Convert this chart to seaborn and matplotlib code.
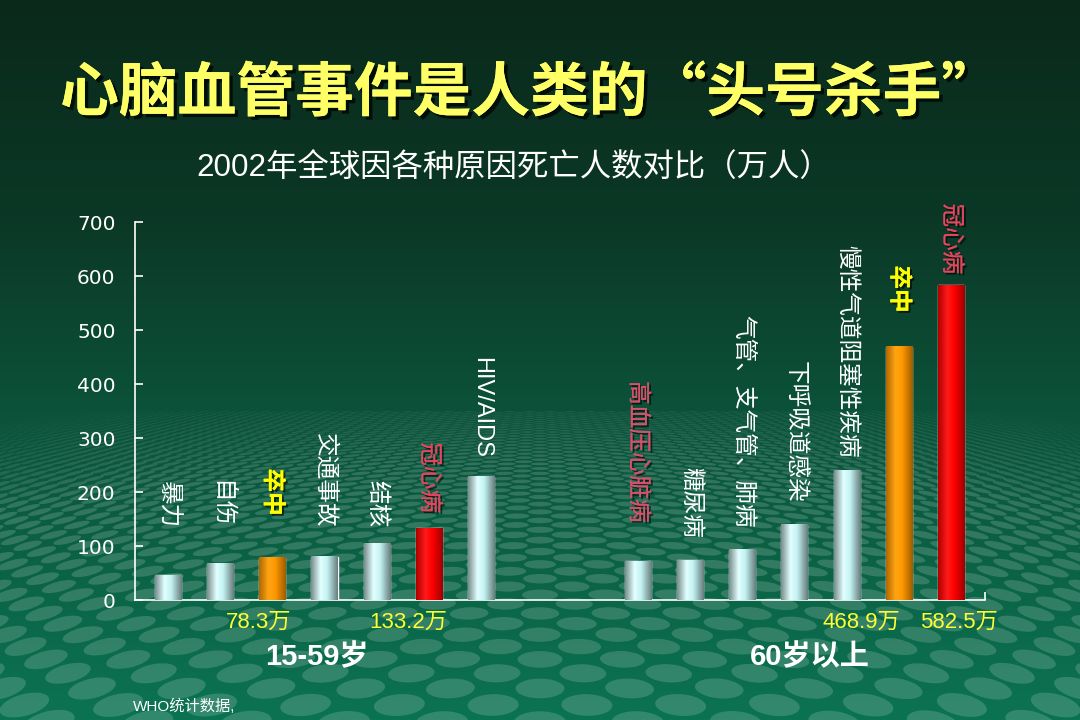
import numpy as np
import pandas as pd
import matplotlib
matplotlib.use('Agg')
import matplotlib.pyplot as plt
import matplotlib.patheffects as pe
from matplotlib.collections import EllipseCollection
from matplotlib.colors import LinearSegmentedColormap, to_hex
import seaborn as sns

# 2002年全球各种原因死亡人数（万人），数值读自原图
causes_young = ['暴力', '自伤', '卒中', '交通事故', '结核', '冠心病', 'HIV/AIDS']
deaths_young = [46, 67, 78.3, 80, 104, 133.2, 228]
causes_old = ['高血压心脏病', '糖尿病', '气管、支气管、肺病', '下呼吸道感染',
              '慢性气道阻塞性疾病', '卒中', '冠心病']
deaths_old = [72, 74, 93, 139, 239, 468.9, 582.5]
age_groups = ['15-59岁', '60岁以上']
y_ticks = [0, 100, 200, 300, 400, 500, 600, 700]

title = '心脑血管事件是人类的“头号杀手”'
subtitle = '2002年全球因各种原因死亡人数对比（万人）'
source = 'WHO统计数据,'

# 摆放位置（只是版面，不是数据）
label_bottom_young = [134, 134, 156, 134, 134, 161, 263]
label_bottom_old = [143, 115, 134, 180, 263, 532, 603]
note_dx = [-0.27, -0.4, -0.71, 0.15]
group_x = [2.85, 12.3]

kind_of = {'卒中': 'stroke', '冠心病': 'chd'}
palette = {'normal': '#c8f4f4', 'stroke': '#ff9900', 'chd': '#ff0000'}
label_color = {'卒中': '#ffff00', '冠心病': '#e8445e', '高血压心脏病': '#d8506c'}

pos_young = np.arange(len(causes_young))
pos_old = np.arange(len(causes_old)) + len(causes_young) + 2
df = pd.DataFrame({
    'pos': np.concatenate([pos_young, pos_old]),
    'deaths': deaths_young + deaths_old,
    'cause': causes_young + causes_old,
})
df['kind'] = [kind_of.get(c, 'normal') for c in df['cause']]

sns.set_style('white')
plt.rcParams['font.family'] = ['Liberation Sans', 'Noto Sans CJK SC', 'DejaVu Sans']
plt.rcParams['axes.unicode_minus'] = False

W, H = 1080, 720
fig = plt.figure(figsize=(10.8, 7.2), dpi=100)

# 背景：绿色渐变 + 透视圆点
bg = fig.add_axes([0, 0, 1, 1], zorder=-10)
bg.set_xlim(0, W)
bg.set_ylim(H, 0)
bg.axis('off')
bg_cmap = LinearSegmentedColormap.from_list(
    'bg', [(0, '#0a291b'), (0.3, '#0b3826'), (0.55, '#0c5038'), (1, '#0b7352')])
bg.imshow(np.linspace(0, 1, 256)[:, None], extent=[0, W, H, 0],
          cmap=bg_cmap, aspect='auto')

f, yh, xv = 975.0, 330.0, 540.0
offs, ws, hs, angs, cols = [], [], [], [], []
for i, Z in enumerate(np.arange(2.0, 12.0, 0.12)):
    yy = yh + f / Z
    Xw = np.arange(-9, 9, 0.25) + (0.125 if i % 2 else 0)
    xx = xv + f * Xw / Z
    xx = xx[(xx > -60) & (xx < W + 60)]
    wd = 2 * f * 0.068 / Z
    ht = wd * (yy - yh) / f * 1.1
    for x in xx:
        start = 372 + 45 * ((x - xv) / xv) ** 2
        a = 0.16 * np.clip((yy - start) / 90, 0, 1)
        if a <= 0:
            continue
        offs.append((x, yy))
        ws.append(wd)
        hs.append(ht)
        angs.append(16 * (x - xv) / xv)
        cols.append((1, 1, 1, a))
ec = EllipseCollection(ws, hs, angs, units='xy', offsets=offs,
                       offset_transform=bg.transData, facecolors=cols,
                       edgecolors='none')
bg.add_collection(ec)

# 主图
ax = fig.add_axes([135 / W, 120 / H, 850 / W, 378 / H])
ax.set_facecolor('none')
sns.barplot(data=df, x='pos', y='deaths', hue='kind', palette=palette,
            native_scale=True, dodge=False, width=0.5, saturation=1,
            legend=False, ax=ax)

# 柱子的圆柱光泽
shades = {
    'normal': ['#7a8e8e', '#e2ffff', '#c4f2f2', '#687e7e'],
    'stroke': ['#b06800', '#ffa414', '#ff9900', '#a05c00'],
    'chd': ['#b00000', '#ff1a1a', '#ff0000', '#a00000'],
}
hex_kind = {to_hex(v): k for k, v in palette.items()}
for bar in list(ax.patches):
    k = hex_kind.get(to_hex(bar.get_facecolor()), 'normal')
    cm = LinearSegmentedColormap.from_list(
        k, list(zip([0, 0.35, 0.6, 1], shades[k])))
    x0, w, h = bar.get_x(), bar.get_width(), bar.get_height()
    ax.imshow(np.linspace(0, 1, 64)[None, :], extent=[x0, x0 + w, 0, h],
              cmap=cm, aspect='auto', zorder=3)

ax.set_xlim(-0.63, 15.65)
ax.set_ylim(0, 700)
ax.set_yticks(y_ticks, labels=[str(t) for t in y_ticks],
              fontfamily='DejaVu Sans', fontsize=14.5)
ax.set_xticks([15.65])
ax.set_xlabel('')
ax.set_ylabel('')
for s in ['top', 'right']:
    ax.spines[s].set_visible(False)
for s in ['left', 'bottom']:
    ax.spines[s].set_color('white')
    ax.spines[s].set_linewidth(1.2)
ax.tick_params(axis='y', direction='in', length=6, width=1.2, colors='white',
               pad=14, left=True)
ax.tick_params(axis='x', direction='in', length=6, width=1.2, colors='white',
               labelbottom=False, bottom=True)

shadow = [pe.withSimplePatchShadow(offset=(1.5, -1.5), shadow_rgbFace='black',
                                   alpha=0.6), pe.Normal()]

# 竖排病因标签
for x, name, yb in zip(df['pos'], df['cause'],
                       label_bottom_young + label_bottom_old):
    special = name in label_color
    ax.text(x, yb, name, rotation=-90, ha='center', va='bottom',
            fontsize=17, color=label_color.get(name, 'white'),
            fontweight='bold' if name == '卒中' else 'normal',
            path_effects=shadow if special else None, zorder=5)

# 卒中 / 冠心病 的数值
hl = df[df['kind'] != 'normal']
for (x, v), dx in zip(hl[['pos', 'deaths']].values, note_dx):
    ax.text(x + dx, -41, f'{v:g}万', ha='center', va='center', fontsize=16,
            color='#ffff33', clip_on=False)

for gx, g in zip(group_x, age_groups):
    ax.text(gx, -106, g, ha='center', va='center', fontsize=21,
            fontweight='bold', color='white', clip_on=False)

fig.text(530 / W, 1 - 94 / H, title, ha='center', va='center', fontsize=42.3,
         fontweight='bold', color='#ffff66', family=['Noto Sans CJK SC'],
         path_effects=[pe.withSimplePatchShadow(offset=(2.5, -2.5),
                                                shadow_rgbFace='black',
                                                alpha=0.7), pe.Normal()])
fig.text(514 / W, 1 - 168 / H, subtitle, ha='center', va='center',
         fontsize=22.6, color='white')
fig.text(133 / W, 1 - 706 / H, source, ha='left', va='center', fontsize=11,
         color='white')

fig.savefig('out.png', dpi=100)
